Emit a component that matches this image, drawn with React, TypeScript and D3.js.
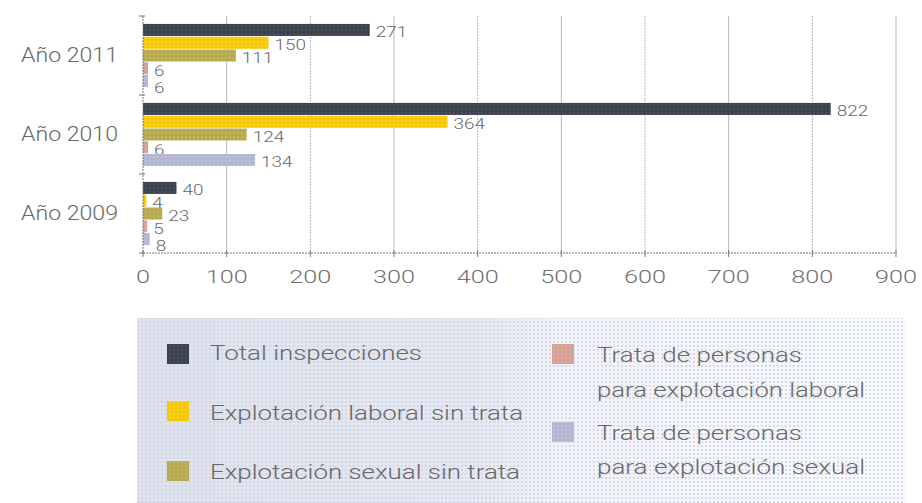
import React from "react";
import * as d3 from "d3";

const years = ["Año 2011", "Año 2010", "Año 2009"];
const seriesNames = [
  "Total inspecciones",
  "Explotación laboral sin trata",
  "Explotación sexual sin trata",
  "Trata de personas para explotación laboral",
  "Trata de personas para explotación sexual",
];
const totalInspecciones = [271, 822, 40];
const laboralSinTrata = [150, 364, 4];
const sexualSinTrata = [111, 124, 23];
const trataLaboral = [6, 6, 5];
const trataSexual = [6, 134, 8];
const xTicks = [0, 100, 200, 300, 400, 500, 600, 700, 800, 900];

const colors = ["#3b414d", "#f6c800", "#b7aa4e", "#d5a092", "#b3b6d2"];
const dotColors = ["#5a606b", "#fbe070", "#cfc57e", "#e6c0b5", "#d0d2e6"];

const seriesValues = [totalInspecciones, laboralSinTrata, sexualSinTrata, trataLaboral, trataSexual];

const W = 922;
const H = 503;
const M = { left: 143, right: 896, top: 16, bottom: 253 };
const LABEL_W = 10.5;
const LABEL_GAP = 17;

export default function App() {
  const x = d3.scaleLinear().domain([0, 900]).range([M.left, M.right]);
  const y0 = d3.scaleBand<string>().domain(years).range([M.top, M.bottom]).padding(0);
  const y1 = d3
    .scaleBand<string>()
    .domain(seriesNames)
    .range([0, y0.bandwidth()])
    .paddingInner(0.06)
    .paddingOuter(0.62);

  const textColor = "#686868";
  const font = "Roboto, 'Liberation Sans', Arial, sans-serif";

  // value labels with simple downward collision avoidance
  const labels = years.map((yr, yi) => {
    const placed: { x0: number; x1: number; y: number }[] = [];
    return seriesNames.map((s, si) => {
      const v = seriesValues[si][yi];
      const txt = String(v);
      const lx = x(v) + 6;
      const w = txt.length * LABEL_W;
      let ly = y1(s)! + y1.bandwidth() / 2 + 2;
      placed.forEach((p) => {
        const xOverlap = lx < p.x1 && lx + w > p.x0;
        if (xOverlap && ly - p.y < LABEL_GAP) ly = p.y + LABEL_GAP;
      });
      placed.push({ x0: lx, x1: lx + w, y: ly });
      return { txt, lx, ly, w, v, s, si };
    });
  });

  const legendItems = [
    { i: 0, sx: 167, sy: 354, tx: 210, ty: [353], lines: ["Total inspecciones"], lens: [212] },
    { i: 1, sx: 167, sy: 411, tx: 210, ty: [413], lines: ["Explotación laboral sin trata"], lens: [313] },
    { i: 2, sx: 167, sy: 471, tx: 210, ty: [472], lines: ["Explotación sexual sin trata"], lens: [310] },
    {
      i: 3,
      sx: 552,
      sy: 354,
      tx: 597,
      ty: [355, 390],
      lines: ["Trata de personas", "para explotación laboral"],
      lens: [205, 268],
    },
    {
      i: 4,
      sx: 552,
      sy: 432,
      tx: 597,
      ty: [433, 467],
      lines: ["Trata de personas", "para explotación sexual"],
      lens: [205, 268],
    },
  ];

  return (
    <svg
      width={W}
      height={H}
      style={{ position: "absolute", left: 0, top: 0, background: "#fff" }}
      fontFamily={font}
      fontWeight={300}
    >
      <defs>
        {colors.map((c, i) => (
          <pattern key={i} id={`pat${i}`} width={4} height={4} patternUnits="userSpaceOnUse">
            <rect width={4} height={4} fill={c} />
            <circle cx={2} cy={2} r={0.8} fill={dotColors[i]} />
          </pattern>
        ))}
        <linearGradient id="legGrad" x1="0" x2="1" y1="0" y2="0">
          <stop offset="0" stopColor="#dde2ec" />
          <stop offset="0.45" stopColor="#e6e9f1" />
          <stop offset="0.55" stopColor="#f1f3f8" />
          <stop offset="1" stopColor="#f8f9fc" />
        </linearGradient>
        <pattern id="legDots" width={4} height={4} patternUnits="userSpaceOnUse">
          <circle cx={2} cy={2} r={0.9} fill="#c9cee2" />
        </pattern>
      </defs>

      {/* gridlines */}
      {xTicks.slice(1).map((t, k) => (
        <line
          key={t}
          x1={x(t)}
          x2={x(t)}
          y1={M.top}
          y2={M.bottom}
          stroke="#b8b8b8"
          strokeWidth={1}
          strokeDasharray={k % 2 === 0 ? undefined : "2,1"}
        />
      ))}

      {/* bars */}
      {years.map((yr, yi) => (
        <g key={yr} transform={`translate(0,${y0(yr)})`}>
          {labels[yi].map((d) => (
            <g key={d.s}>
              <rect
                x={x(0)}
                y={y1(d.s)!}
                width={x(d.v) - x(0)}
                height={y1.bandwidth()}
                fill={`url(#pat${d.si})`}
              />
              <text
                x={d.lx}
                y={d.ly}
                dy="0.36em"
                fontSize={15}
                fill={textColor}
                textLength={d.w}
                lengthAdjust="spacingAndGlyphs"
              >
                {d.txt}
              </text>
            </g>
          ))}
        </g>
      ))}

      {/* left axis */}
      <line x1={M.left} x2={M.left} y1={M.top} y2={M.bottom} stroke="#777" strokeDasharray="2,1" />
      {[...years.map((yr) => y0(yr)!), M.bottom].map((yy, k) => (
        <line key={k} x1={M.left - 4} x2={M.left + 2} y1={yy} y2={yy} stroke="#777" />
      ))}
      {years.map((yr) => (
        <text
          key={yr}
          x={118}
          y={y0(yr)! + y0.bandwidth() / 2 - 1}
          dy="0.36em"
          textAnchor="end"
          fontSize={20}
          fill={textColor}
          textLength={97}
          lengthAdjust="spacingAndGlyphs"
        >
          {yr}
        </text>
      ))}

      {/* bottom axis */}
      <line x1={M.left} x2={M.right} y1={M.bottom} y2={M.bottom} stroke="#777" strokeDasharray="2,1" />
      {xTicks.map((t) => (
        <g key={t}>
          <line x1={x(t)} x2={x(t)} y1={M.bottom - 3} y2={M.bottom + 4} stroke="#777" />
          <text
            x={x(t)}
            y={277}
            dy="0.36em"
            textAnchor="middle"
            fontSize={18}
            fill="#727272"
            textLength={String(t).length * 14}
            lengthAdjust="spacingAndGlyphs"
          >
            {t}
          </text>
        </g>
      ))}

      {/* legend */}
      <rect x={137} y={318} width={768} height={190} fill="url(#legGrad)" />
      <rect x={137} y={318} width={768} height={190} fill="url(#legDots)" />
      {legendItems.map((d) => (
        <g key={d.i}>
          <rect x={d.sx} y={d.sy - 10} width={22} height={20} fill={`url(#pat${d.i})`} />
          {d.lines.map((ln, li) => (
            <text
              key={li}
              x={d.tx}
              y={d.ty[li]}
              dy="0.36em"
              fontSize={20}
              fill={textColor}
              textLength={d.lens[li]}
              lengthAdjust="spacingAndGlyphs"
            >
              {ln}
            </text>
          ))}
        </g>
      ))}
    </svg>
  );
}
